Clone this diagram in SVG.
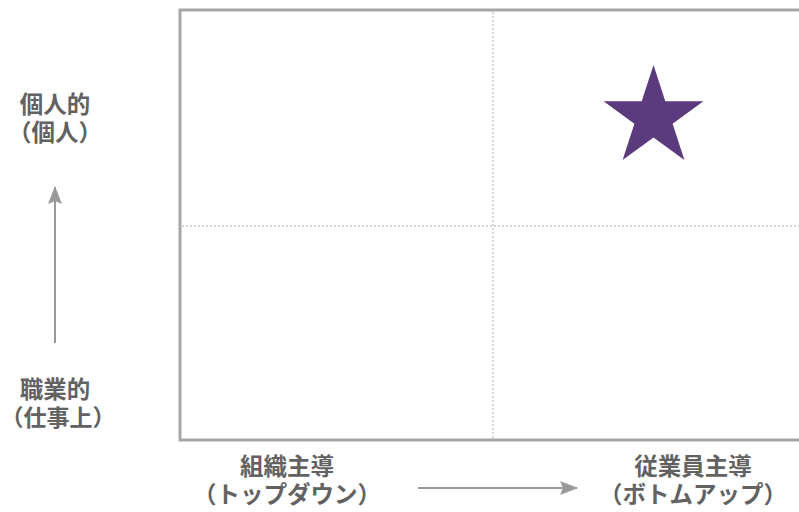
<svg xmlns="http://www.w3.org/2000/svg" width="799" height="512" viewBox="0 0 799 512">
<defs>
<style>
.lbl{font-family:"Noto Sans CJK JP","Noto Sans CJK SC",sans-serif;font-weight:bold;font-size:23.5px;fill:#626262;text-anchor:middle}
.frame{fill:none;stroke:#a6a6a6;stroke-width:3}
.grid{stroke:#aaa;stroke-width:1;stroke-dasharray:2,2;fill:none}
.axis{stroke:#9a9a9a;stroke-width:2;fill:none}
</style>
<marker id="ah" viewBox="0 0 18 14" refX="17" refY="7" markerWidth="18" markerHeight="14" orient="auto" markerUnits="userSpaceOnUse">
<path d="M0,0 L18,7 L0,14 L3,7 z" fill="#9a9a9a"/>
</marker>
</defs>
<g id="frame">
<path class="frame" d="M805,10 H180 V440 H805"/>
<line class="grid" x1="493" y1="12" x2="493" y2="439"/>
<line class="grid" x1="182" y1="226" x2="799" y2="226"/>
</g>
<g id="star">
<polygon fill="#5b3a7e" points="653.5,65 665.3,101.3 703.4,101.3 672.6,123.7 684.4,160 653.5,137.6 622.6,160 634.4,123.7 603.6,101.3 641.7,101.3"/>
</g>
<g id="connectors">
<line class="axis" x1="55" y1="343" x2="55" y2="187" marker-end="url(#ah)"/>
<line class="axis" x1="418" y1="488" x2="577" y2="488" marker-end="url(#ah)"/>
</g>
<g id="label-personal">
<text class="lbl" x="55" y="113">個人的</text>
<text class="lbl" x="55" y="141">（個人）</text>
</g>
<g id="label-work">
<text class="lbl" x="55" y="398">職業的</text>
<text class="lbl" x="58" y="426" style="font-size:23px">（仕事上）</text>
</g>
<g id="label-org">
<text class="lbl" x="287" y="475">組織主導</text>
<text class="lbl" x="287" y="503">（トップダウン）</text>
</g>
<g id="label-emp">
<text class="lbl" x="693" y="475">従業員主導</text>
<text class="lbl" x="693" y="503">（ボトムアップ）</text>
</g>
</svg>
